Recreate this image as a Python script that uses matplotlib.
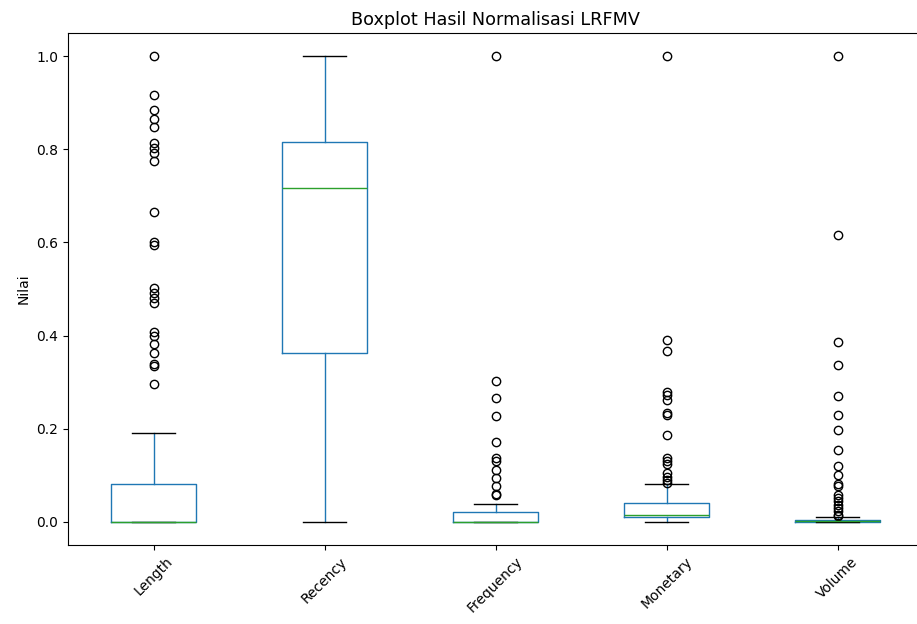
import numpy as np
import matplotlib.pyplot as plt

#====================1======================
#        values
#===========================================
labels = ['Length', 'Recency', 'Frequency', 'Monetary', 'Volume']
q1     = [0.000, 0.363, 0.000, 0.010, 0.000]
med    = [0.000, 0.716, 0.000, 0.015, 0.001]
q3     = [0.081, 0.815, 0.020, 0.040, 0.004]
whislo = [0.000, 0.000, 0.000, 0.000, 0.000]
whishi = [0.191, 1.000, 0.039, 0.080, 0.010]

fl_length = [1.0, 0.916, 0.885, 0.866, 0.849, 0.813, 0.804, 0.793, 0.775,
             0.666, 0.601, 0.594, 0.503, 0.492, 0.481, 0.470, 0.407, 0.400,
             0.381, 0.363, 0.338, 0.334, 0.295]
fl_recency = []
fl_frequency = [1.0, 0.303, 0.265, 0.227, 0.172, 0.137, 0.130, 0.112, 0.094,
                0.076, 0.060, 0.058]
fl_monetary = [1.0, 0.391, 0.367, 0.279, 0.273, 0.262, 0.234, 0.229, 0.186,
               0.137, 0.130, 0.123, 0.105, 0.097, 0.089, 0.083]
fl_volume = [1.0, 0.617, 0.386, 0.337, 0.270, 0.230, 0.198, 0.155, 0.119,
             0.101, 0.080, 0.076, 0.058, 0.051, 0.044, 0.037, 0.029, 0.022,
             0.015, 0.012]
fliers = [fl_length, fl_recency, fl_frequency, fl_monetary, fl_volume]

#====================2======================
#              build stats, plot
#===========================================
stats = []
for i, lab in enumerate(labels):
    stats.append(dict(label=lab, q1=q1[i], med=med[i], q3=q3[i],
                      whislo=whislo[i], whishi=whishi[i],
                      fliers=np.array(fliers[i])))

fig = plt.figure(figsize=(9.17, 6.24), dpi=100)
ax = fig.add_axes([68/917, 79/624, 855/917, 512/624])
ax.bxp(stats, widths=0.5,
       boxprops=dict(color='C0'),
       whiskerprops=dict(color='C0'),
       medianprops=dict(color='C2'),
       capprops=dict(color='k'),
       flierprops=dict(marker='o', markeredgecolor='k', markerfacecolor='none'))
ax.set_xlim(0.5, 5.5)
ax.set_ylim(-0.05, 1.05)
ax.set_title('Boxplot Hasil Normalisasi LRFMV', fontsize=12.7)
ax.set_ylabel('Nilai')
plt.setp(ax.get_xticklabels(), rotation=45)

fig.savefig('out.png', dpi=100)
